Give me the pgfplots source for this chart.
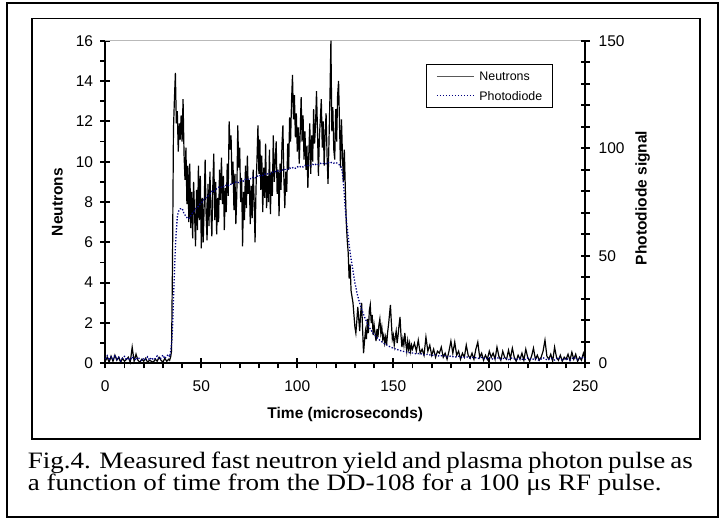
\documentclass[border=0pt]{standalone}
\usepackage{fontspec}
\setmainfont{Liberation Sans}
\newfontfamily\capfont[FakeStretch=1.15]{Liberation Serif}
\usepackage{pgfplots}
\usepackage{pgfplotstable}
\pgfplotsset{compat=1.18}
\definecolor{pdblue}{RGB}{0,0,128}

% neutron counts (left axis)
\pgfplotstableread[row sep=\\]{
t n\\
0 0.1\\ 1 0.3\\ 2 0.05\\ 3 0.35\\ 4 0.1\\ 5 0.4\\ 6 0.15\\ 7 0.3\\ 8 0.05\\ 9 0.25\\
10 0.1\\ 11 0.2\\ 12 0.3\\ 13 0.05\\ 14 0.8\\ 15 0.1\\ 16 0.45\\ 17 0.15\\ 18 0.05\\ 19 0.2\\
20 0.1\\ 21 0.25\\ 22 0.05\\ 23 0.15\\ 24 0.1\\ 25 0.05\\ 26 0.2\\ 27 0.1\\ 28 0.3\\ 29 0.15\\
30 0.05\\ 31 0.25\\ 32 0.1\\ 33 0.2\\ 33.5 0.15\\ 34 0.3\\ 34.5 0.6\\ 35 5.0\\ 35.5 11.6\\ 36 13.1\\
36.5 14.4\\ 37 11.9\\ 37.5 12.5\\ 38 10.5\\ 38.5 11.9\\ 39 11.1\\ 39.5 12.3\\ 40 11.0\\ 40.5 13.1\\ 41 10.4\\
41.5 9.1\\ 42 10.7\\ 42.5 7.9\\ 43 9.8\\ 43.5 7.0\\ 44 9.9\\ 44.5 6.7\\ 45 8.5\\ 45.5 6.2\\ 46 9.0\\
46.5 7.4\\ 47 5.8\\ 47.5 8.6\\ 48 6.6\\ 48.5 9.8\\ 49 7.1\\ 49.5 9.3\\ 50 5.7\\ 50.5 8.2\\ 51 6.0\\
51.5 7.8\\ 52 10.1\\ 52.5 7.4\\ 53 6.1\\ 53.5 8.9\\ 54 6.8\\ 54.5 9.5\\ 55 7.6\\ 55.5 6.3\\ 56 8.8\\
56.5 10.4\\ 57 7.1\\ 57.5 9.0\\ 58 6.4\\ 58.5 8.2\\ 59 7.0\\ 59.5 9.6\\ 60 8.1\\ 60.5 10.2\\ 61 7.9\\
61.5 9.3\\ 62 6.6\\ 62.5 8.7\\ 63 7.5\\ 63.5 9.9\\ 64 8.3\\ 64.5 12.0\\ 65 10.6\\ 65.5 11.3\\ 66 8.9\\
66.5 10.0\\ 67 7.6\\ 67.5 9.4\\ 68 6.9\\ 68.5 8.4\\ 69 11.8\\ 69.5 9.7\\ 70 10.7\\ 70.5 8.0\\ 71 9.2\\
71.5 5.8\\ 72 8.5\\ 72.5 7.1\\ 73 9.8\\ 73.5 7.7\\ 74 10.3\\ 74.5 8.4\\ 75 9.1\\ 75.5 6.9\\ 76 8.8\\
76.5 7.2\\ 77 9.6\\ 77.5 8.1\\ 78 6.0\\ 78.5 8.7\\ 79 10.1\\ 79.5 11.8\\ 80 9.4\\ 80.5 11.1\\ 81 8.6\\
81.5 10.3\\ 82 7.5\\ 82.5 9.7\\ 83 8.2\\ 83.5 10.9\\ 84 7.7\\ 84.5 9.3\\ 85 8.0\\ 85.5 10.6\\ 86 7.4\\
86.5 9.5\\ 87 8.3\\ 87.5 11.3\\ 88 9.0\\ 88.5 10.0\\ 89 11.0\\ 89.5 8.4\\ 90 9.6\\ 90.5 7.3\\ 91 9.9\\
91.5 8.6\\ 92 10.8\\ 92.5 11.8\\ 93 9.2\\ 93.5 7.7\\ 94 9.5\\ 94.5 8.5\\ 95 10.9\\ 95.5 9.6\\ 96 12.2\\
96.5 11.0\\ 97 13.0\\ 97.5 14.3\\ 98 12.1\\ 98.5 13.3\\ 99 11.2\\ 99.5 12.4\\ 100 10.5\\ 100.5 11.7\\ 101 9.9\\
101.5 11.4\\ 102 13.2\\ 102.5 11.0\\ 103 12.3\\ 103.5 10.1\\ 104 11.5\\ 104.5 9.6\\ 105 10.8\\ 105.5 8.7\\ 106 10.4\\
106.5 11.9\\ 107 9.4\\ 107.5 11.3\\ 108 10.0\\ 108.5 12.6\\ 109 10.9\\ 109.5 11.8\\ 110 13.5\\ 110.5 11.6\\ 111 9.3\\
111.5 11.2\\ 112 12.1\\ 112.5 13.1\\ 113 10.7\\ 113.5 12.0\\ 114 9.8\\ 114.5 11.4\\ 115 12.4\\ 115.5 10.3\\ 116 8.9\\
116.5 11.0\\ 117 13.2\\ 117.5 16.0\\ 118 11.5\\ 118.5 12.7\\ 119 10.6\\ 119.5 10.1\\ 120 12.6\\ 120.5 11.0\\ 121 13.3\\
121.5 14.0\\ 122 11.8\\ 122.5 9.7\\ 123 12.1\\ 123.5 10.4\\ 124 9.0\\ 124.5 10.6\\ 125 8.7\\ 125.5 7.0\\ 126 6.1\\
126.5 5.5\\ 127 4.2\\ 127.5 4.9\\ 128 3.6\\ 128.5 3.3\\ 129 3.0\\ 129.5 2.4\\ 130 1.8\\ 130.5 1.5\\ 131 2.1\\
131.5 2.8\\ 132 2.2\\ 132.5 1.6\\ 133 2.5\\ 133.5 3.0\\ 134 1.7\\ 134.5 0.5\\ 135 1.1\\ 135.5 1.6\\ 136 1.2\\
136.5 2.2\\ 137 1.5\\ 137.5 2.6\\ 138 2.9\\ 138.5 2.0\\ 139 2.4\\ 139.5 1.4\\ 140 1.9\\ 140.5 1.5\\ 141 1.1\\
141.5 1.7\\ 142 1.3\\ 142.5 1.9\\ 143 2.2\\ 143.5 1.5\\ 144 1.8\\ 144.5 1.2\\ 145 1.4\\ 145.5 1.0\\ 146 1.3\\
146.5 0.9\\ 147 1.5\\ 147.5 1.9\\ 148 2.4\\ 148.5 2.9\\ 149 2.0\\ 149.5 1.2\\ 150 1.4\\ 150.5 0.9\\ 151 1.3\\
151.5 1.6\\ 152 1.0\\ 152.5 1.4\\ 153 1.9\\ 153.5 2.3\\ 154 1.4\\ 154.5 0.8\\ 155 1.2\\ 155.5 0.9\\ 156 1.5\\
156.5 1.0\\ 157 0.6\\ 157.5 1.1\\ 158 0.7\\ 158.5 1.0\\ 159 0.6\\ 159.5 0.9\\ 160 0.7\\ 161 1.0\\ 162 0.6\\
163 1.15\\ 164 0.5\\ 165 0.7\\ 166 0.4\\ 167 1.3\\ 168 0.6\\ 169 0.9\\ 170 0.4\\ 171 0.7\\ 172 0.3\\
173 0.6\\ 174 0.5\\ 175 0.8\\ 176 0.3\\ 177 0.5\\ 178 0.2\\ 179 0.6\\ 180 1.1\\ 181 0.5\\ 182 1.05\\
183 0.4\\ 184 0.6\\ 185 0.2\\ 186 0.5\\ 187 0.3\\ 188 0.9\\ 189 0.4\\ 190 0.25\\ 191 0.5\\ 192 0.2\\
193 0.7\\ 194 1.05\\ 195 0.3\\ 196 0.5\\ 197 0.15\\ 198 0.4\\ 199 0.2\\ 200 0.6\\ 201 0.3\\ 202 0.5\\
203 0.2\\ 204 0.8\\ 205 0.35\\ 206 0.15\\ 207 0.6\\ 208 0.3\\ 209 0.2\\ 210 0.65\\ 211 0.25\\ 212 0.75\\
213 0.3\\ 214 0.1\\ 215 0.4\\ 216 0.2\\ 217 0.5\\ 218 0.15\\ 219 0.7\\ 220 0.3\\ 221 0.1\\ 222 0.35\\
223 0.75\\ 224 0.2\\ 225 0.4\\ 226 0.15\\ 227 0.3\\ 228 0.6\\ 229 1.15\\ 230 0.35\\ 231 0.2\\ 232 0.45\\
233 0.1\\ 234 0.8\\ 235 0.3\\ 236 0.15\\ 237 0.4\\ 238 0.1\\ 239 0.3\\ 240 0.2\\ 241 0.45\\ 242 0.15\\
243 0.55\\ 244 0.2\\ 245 0.45\\ 246 0.1\\ 247 0.3\\ 248 0.15\\ 249 0.5\\ 250 0.2\\
}\neutrons

% photodiode signal (right axis)
\pgfplotstableread[row sep=\\]{
t p\\
0 2\\ 1 3.5\\ 2 1.5\\ 3 3\\ 4 2\\ 5 3.8\\ 6 1.8\\ 7 2.8\\ 8 1.2\\ 9 2.5\\
10 3.2\\ 11 1.6\\ 12 2.6\\ 13 1.4\\ 14 3\\ 15 2.2\\ 16 1.5\\ 17 2.8\\ 18 2\\ 19 1.2\\
20 2.4\\ 21 1.8\\ 22 3\\ 23 1.5\\ 24 2.6\\ 25 1.7\\ 26 2.2\\ 27 3.4\\ 28 1.9\\ 29 2.5\\
30 3.8\\ 31 2.2\\ 32 3.5\\ 33 4\\ 33.5 3\\ 34 5.4\\ 34.5 9\\ 35 15.5\\ 35.5 30\\ 36 42\\
36.5 54\\ 37 62\\ 37.5 68\\ 38 70.2\\ 38.5 71.3\\ 39 71.8\\ 40 72\\ 40.5 71\\ 41 69.5\\ 42 68.4\\
43 67.2\\ 44 67.6\\ 45 69.5\\ 46 70.2\\ 47 71.8\\ 48 72.4\\ 49 73.8\\ 50 74.5\\ 51 75.8\\ 52 76.5\\
53 77.6\\ 54 78.0\\ 55 79.3\\ 56 80.4\\ 57 80.1\\ 58 81.2\\ 59 81.9\\ 60 81.5\\ 61 82.4\\ 62 82.0\\
63 82.9\\ 64 82.6\\ 65 83.4\\ 66 83.0\\ 67 83.9\\ 68 84.3\\ 69 83.8\\ 70 84.8\\ 71 85.2\\ 72 84.7\\
73 85.6\\ 74 85.3\\ 75 86.1\\ 76 85.7\\ 77 86.6\\ 78 86.2\\ 79 87.1\\ 80 86.8\\ 81 87.6\\ 82 87.3\\
83 88.0\\ 84 87.6\\ 85 88.5\\ 86 88.1\\ 87 88.8\\ 88 89.3\\ 89 88.9\\ 90 89.6\\ 91 89.2\\ 92 90.0\\
93 89.6\\ 94 90.4\\ 95 90.1\\ 96 90.8\\ 97 90.5\\ 98 91.2\\ 99 90.7\\ 100 91.4\\ 101 91.0\\ 102 91.7\\
103 91.3\\ 104 92.0\\ 105 91.6\\ 106 92.3\\ 107 91.9\\ 108 92.5\\ 109 92.1\\ 110 92.8\\ 111 92.4\\ 112 93.0\\
113 92.6\\ 114 93.2\\ 115 92.8\\ 116 93.4\\ 117 93.0\\ 118 93.5\\ 119 93.1\\ 120 93.4\\ 121 92.9\\ 122 92.2\\
123 91.0\\ 123.5 88.5\\ 124 84\\ 124.5 78\\ 125 72\\ 125.5 67\\ 126 63\\ 126.5 59\\ 127 55\\ 127.5 51.5\\
128 48.5\\ 129 43\\ 130 37.5\\ 131 33\\ 132 29.5\\ 133 26.5\\ 134 24\\ 135 21.5\\ 136 19.5\\ 137 17.5\\
138 16\\ 139 14.6\\ 140 13.4\\ 141 12.4\\ 142 11.5\\ 143 10.7\\ 144 10.0\\ 145 9.3\\ 146 8.8\\ 147 8.3\\
148 7.8\\ 149 7.4\\ 150 7.0\\ 152 6.4\\ 154 5.8\\ 156 5.4\\ 158 5.0\\ 160 4.8\\ 162 4.4\\ 164 4.6\\
166 3.9\\ 168 4.2\\ 170 3.6\\ 172 3.9\\ 174 3.3\\ 176 3.7\\ 178 3.0\\ 180 3.4\\ 182 2.8\\ 184 3.3\\
186 2.6\\ 188 3.1\\ 190 2.4\\ 192 2.9\\ 194 2.2\\ 196 2.8\\ 198 2.0\\ 200 2.6\\ 202 1.9\\ 204 2.7\\
206 1.8\\ 208 2.5\\ 210 1.7\\ 212 2.6\\ 214 1.6\\ 216 2.4\\ 218 1.5\\ 220 2.5\\ 222 1.7\\ 224 2.3\\
226 1.4\\ 228 2.6\\ 230 1.6\\ 232 2.4\\ 234 1.5\\ 236 2.7\\ 238 1.6\\ 240 2.3\\ 242 1.4\\ 244 2.8\\
246 1.7\\ 248 2.9\\ 250 2.0\\
}\photo

\pgfplotsset{
  base/.style={
    at={(105.3pt,154.7pt)}, anchor=south west,
    scale only axis, width=480pt, height=322.6pt,
    xmin=0, xmax=250, clip=false,
    /pgf/number format/assume math mode=true,
    tick label style={font=\fontsize{15.5}{18}\selectfont},
    axis line style={-, line width=1.8pt},
    tick style={line width=1.8pt, black},
    tick align=center,
  },
}

\begin{document}
\begin{tikzpicture}
\path[use as bounding box] (0pt,0pt) rectangle (720pt,518pt);
\draw[line width=2pt] (7pt,1.3pt) rectangle (717.5pt,515pt);
\draw[line width=1.4pt] (32pt,79pt) rectangle (700pt,499.7pt);

\begin{axis}[base,
  ymin=0, ymax=16,
  axis x line*=bottom, axis y line*=left,
  xtick={0,50,...,250}, minor x tick num=4,
  ytick={0,2,...,16}, minor y tick num=1,
  major tick length=10pt, minor tick length=5pt,
  minor x tick style={yshift=-2.5pt},
  minor y tick style={xshift=-2.5pt},
  xticklabel style={anchor=north, inner sep=0pt, yshift=-12.2pt},
  yticklabel style={anchor=east, inner sep=0pt, xshift=-7pt},
  every axis x label/.style={at={(axis description cs:0.5,0)}, anchor=base, yshift=-55pt,
    font=\bfseries\fontsize{15.5}{18}\selectfont},
  every axis y label/.style={at={(axis description cs:0,0.5)}, xshift=-42.6pt, rotate=90, anchor=base,
    font=\bfseries\fontsize{15.5}{18}\selectfont},
  xlabel={Time (microseconds)},
  ylabel={Neutrons},
]
\draw[gray!55, line width=1pt] (rel axis cs:0,1) -- (rel axis cs:1,1);
\addplot[black, line width=1.2pt] table[x=t, y=n] {\neutrons};
\end{axis}

\begin{axis}[base,
  ymin=0, ymax=150,
  axis x line=none, axis y line*=right,
  ytick={0,50,100,150}, minor y tick num=4,
  major tick length=9pt, minor tick length=9pt,
  yticklabel style={anchor=west, inner sep=0pt, xshift=8.7pt},
  every axis y label/.style={at={(axis description cs:1,0.5)}, xshift=61.4pt, yshift=4pt, rotate=90, anchor=base,
    font=\bfseries\fontsize{15.5}{18}\selectfont},
  ylabel={Photodiode signal},
  legend style={at={(rel axis cs:0.6675,0.9268)}, anchor=north west, draw=black, line width=0.9pt,
    inner xsep=10pt, inner ysep=6.9pt, row sep=10.6pt, column sep=5pt,
    font=\fontsize{12.4}{14}\selectfont,
    nodes={inner sep=0pt, text height=9pt, text depth=0pt, anchor=base west}},
  legend cell align=left,
  legend image code/.code={\draw[#1] (0pt,4.5pt) -- (37pt,4.5pt);},
]
\addlegendimage{black!65, line width=1pt}
\addlegendentry{Neutrons}
\addplot[pdblue, line width=1.3pt, dash pattern=on 1.3pt off 1.7pt] table[x=t, y=p] {\photo};
\addlegendentry{Photodiode}
\end{axis}

\node[anchor=base west, inner sep=0pt] at (27.7pt,49pt)
  {\capfont\fontsize{23.5}{26}\selectfont\makebox[665pt][s]{Fig.4. Measured fast neutron yield and plasma photon pulse as}};
\node[anchor=base west, inner sep=0pt] at (27.7pt,27pt)
  {\capfont\fontsize{23.5}{26}\selectfont a function of time from the DD-108 for a 100 μs RF pulse.};
\end{tikzpicture}
\end{document}
